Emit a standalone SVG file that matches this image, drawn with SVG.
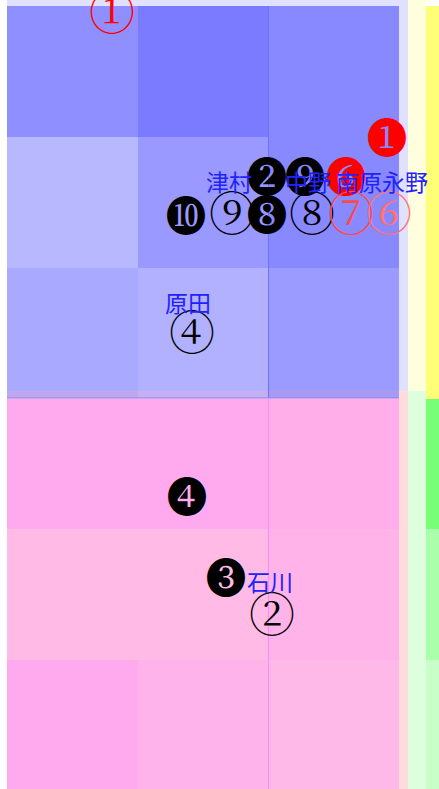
<svg xmlns="http://www.w3.org/2000/svg" width="439" height="789" viewBox="0 0 439 789">
<style>
.ring{font-family:"Noto Serif CJK JP",serif;font-size:46px;text-anchor:middle}
.disc{font-family:"Noto Serif CJK JP",serif;font-size:41px;text-anchor:middle}
.name{font-family:"Noto Sans CJK JP",sans-serif;font-size:23px;fill:#2222ff}
.blk{fill:#000}
.red{fill:#ff0000}
</style>
<rect width="439" height="789" fill="#fff"/>
<g id="panels">
<rect x="7" y="0" width="401" height="398" fill="#e0e0ff"/>
<rect x="408" y="0" width="18" height="398" fill="#ffffdd"/>
<rect x="426" y="6" width="13" height="393" fill="#ffff77"/>
<rect x="7" y="391" width="401" height="398" fill="#ffdddd"/>
<rect x="408" y="391" width="18" height="398" fill="#ddffdd"/>
<rect x="426" y="399" width="13" height="130" fill="#77ff77"/>
<rect x="426" y="529" width="13" height="131" fill="#aaffaa"/>
<rect x="426" y="660" width="13" height="129" fill="#c8ffc8"/>
</g>
<g id="cells-top">
<rect x="7" y="6" width="131" height="131" fill="#8f8fff"/>
<rect x="138" y="6" width="130" height="131" fill="#7b7bff"/>
<rect x="268" y="6" width="131" height="262" fill="#8888ff"/>
<rect x="7" y="137" width="131" height="131" fill="#b8b8ff"/>
<rect x="138" y="137" width="130" height="131" fill="#9999ff"/>
<rect x="7" y="268" width="131" height="123" fill="#a9a9ff"/>
<rect x="138" y="268" width="130" height="123" fill="#b1b1ff"/>
<rect x="268" y="268" width="131" height="123" fill="#9a9aff"/>
<rect x="7" y="391" width="131" height="7" fill="#bda8ee"/>
<rect x="138" y="391" width="130" height="7" fill="#c4b0f0"/>
<rect x="268" y="391" width="131" height="7" fill="#aa99f0"/>
<line x1="268.5" y1="6" x2="268.5" y2="398" stroke="#7070ff" stroke-width="1"/>
<line x1="7" y1="398" x2="399" y2="398" stroke="#8a7aff" stroke-width="1"/>
</g>
<g id="cells-bottom">
<rect x="7" y="399" width="131" height="130" fill="#ffaaee"/>
<rect x="138" y="399" width="130" height="130" fill="#ffaaee"/>
<rect x="268" y="399" width="131" height="130" fill="#ffaeea"/>
<rect x="7" y="529" width="131" height="131" fill="#ffbbe5"/>
<rect x="138" y="529" width="130" height="131" fill="#ffbbe6"/>
<rect x="268" y="529" width="131" height="131" fill="#ffb3e9"/>
<rect x="7" y="660" width="131" height="129" fill="#ffaaee"/>
<rect x="138" y="660" width="130" height="129" fill="#ffb3ea"/>
<rect x="268" y="660" width="131" height="129" fill="#ffb9e8"/>
<line x1="268.5" y1="399" x2="268.5" y2="789" stroke="#ff88ff" stroke-width="1"/>
</g>
<g id="connectors"/>
<g id="n-o1"><text class="ring red" x="112" y="29">①</text></g>
<g id="n-f1"><text class="disc red" x="387" y="153">❶</text></g>
<g id="n-f2"><text class="disc blk" x="267" y="192">❷</text></g>
<g id="n-f9"><text class="disc blk" x="305" y="192">❾</text></g>
<g id="n-f6"><text class="disc red" x="346" y="192">❻</text></g>
<g id="n-f10"><text class="disc blk" x="186" y="231">❿</text></g>
<g id="n-o9"><text class="ring blk" x="232" y="230">⑨</text></g>
<g id="n-f8"><text class="disc blk" x="267" y="230">❽</text></g>
<g id="n-o8"><text class="ring blk" x="312" y="230">⑧</text></g>
<g id="n-o7"><text class="ring" fill="#ff4848" x="351" y="230">⑦</text></g>
<g id="n-o6"><text class="ring" fill="#ff7272" x="389" y="230">⑥</text></g>
<g id="n-o4"><text class="ring blk" x="192" y="349">④</text></g>
<g id="n-f4"><text class="disc blk" x="187" y="512">❹</text></g>
<g id="n-f3"><text class="disc blk" x="226" y="593">❸</text></g>
<g id="n-o2"><text class="ring blk" x="272" y="631">②</text></g>
<g id="label-tsumura"><text class="name" x="206" y="191">津村</text></g>
<g id="label-nakano"><text class="name" x="285" y="191">中野</text></g>
<g id="label-minamihara"><text class="name" x="336" y="191">南原</text></g>
<g id="label-nagano"><text class="name" x="382" y="191">永野</text></g>
<g id="label-harada"><text class="name" x="165" y="312">原田</text></g>
<g id="label-ishikawa"><text class="name" x="247" y="591">石川</text></g>
</svg>
